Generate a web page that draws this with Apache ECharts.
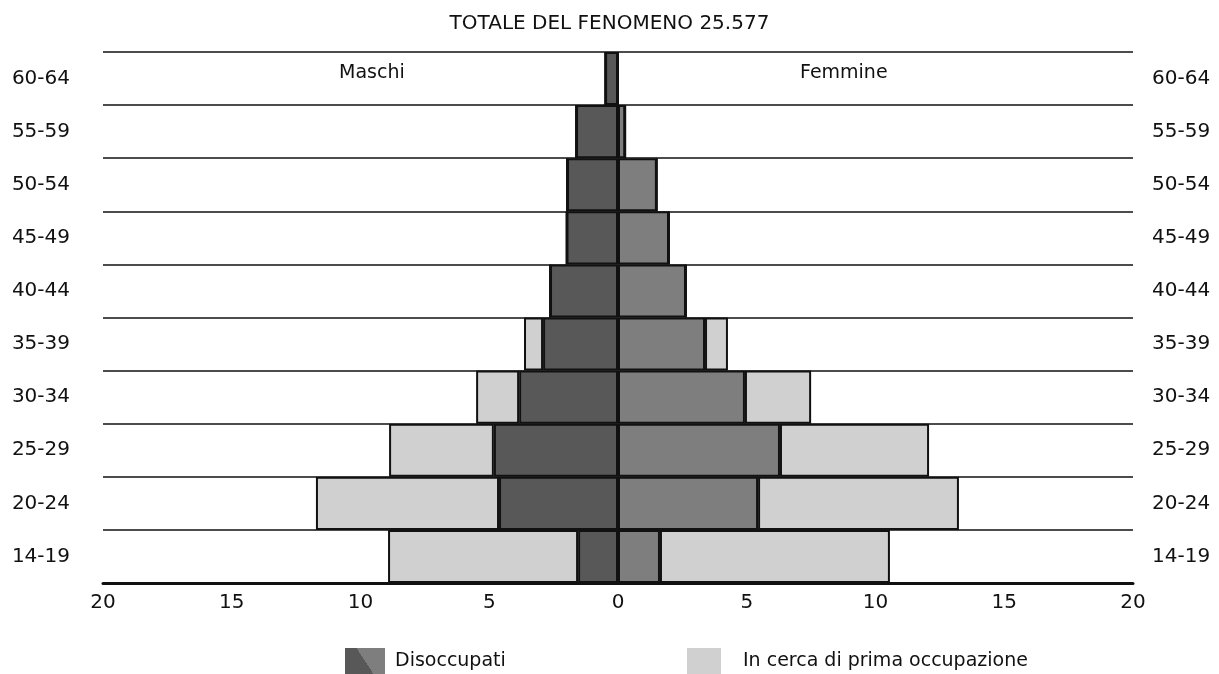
<!DOCTYPE html>
<html>
<head>
<meta charset="utf-8">
<script src="https://cdn.jsdelivr.net/npm/echarts@6/dist/echarts.min.js"></script>
<style>html,body{margin:0;padding:0;background:#fff;}#c{width:1219px;height:674px;}</style>
</head>
<body>
<div id="c"></div>
<script>
// Age classes, bottom to top
const ageClasses = ['14-19','20-24','25-29','30-34','35-39','40-44','45-49','50-54','55-59','60-64'];
// Maschi (thousands)
const maleDisoccupati = [1.55, 4.62, 4.82, 3.84, 2.91, 2.64, 2.0, 1.98, 1.63, 0.5];
const maleInCerca     = [7.38, 7.11, 4.07, 1.67, 0.74, 0, 0, 0, 0, 0];
// Femmine
const femaleDisoccupati = [1.63, 5.44, 6.29, 4.93, 3.38, 2.64, 1.98, 1.51, 0.28, 0];
const femaleInCerca     = [8.93, 7.8, 5.79, 2.57, 0.89, 0, 0, 0, 0, 0];
const xTicks = [-20, -15, -10, -5, 0, 5, 10, 15, 20];

const FONT = '"DejaVu Sans", sans-serif';
const C_MDIS = '#585858', C_FDIS = '#7e7e7e', C_CERCA = '#d0d0d0';
const neg = a => a.map(v => -v);
const barStyle = c => ({ color: c, borderColor: '#111', borderWidth: 2 });

const chart = echarts.init(document.getElementById('c'));
chart.setOption({
  animation: false,
  backgroundColor: '#fff',
  title: { text: 'TOTALE DEL FENOMENO 25.577', left: 'center', top: 9,
    textStyle: { fontFamily: FONT, fontSize: 20, fontWeight: 'normal', color: '#111' } },
  grid: { left: 103, right: 86, top: 52, bottom: 91 },
  xAxis: { type: 'value', min: xTicks[0], max: xTicks[xTicks.length-1], interval: 5,
    axisLine: { show: true, lineStyle: { color: '#111', width: 3 } },
    axisTick: { show: false }, splitLine: { show: false },
    axisLabel: { margin: 10, fontFamily: FONT, fontSize: 20, color: '#111',
      formatter: v => String(Math.abs(v)) } },
  yAxis: [
    { type: 'category', data: ageClasses, position: 'left',
      axisLine: { show: false }, axisTick: { show: false },
      splitLine: { show: true, interval: 0, lineStyle: { color: '#111', width: 1.5 } },
      axisLabel: { margin: 33, fontFamily: FONT, fontSize: 20, color: '#111' } },
    { type: 'category', data: ageClasses, position: 'right',
      axisLine: { show: false }, axisTick: { show: false }, splitLine: { show: false },
      axisLabel: { margin: 19, padding: [8, 0, 0, 0], fontFamily: FONT, fontSize: 20, color: '#111' } }
  ],
  legend: [
    { left: 345, top: 648, itemWidth: 40, itemHeight: 26, icon: 'rect', padding: 0,
      textStyle: { fontFamily: FONT, fontSize: 19, color: '#111', padding: [0,0,0,5] },
      data: [{ name: 'Disoccupati', itemStyle: { borderWidth: 0, color: new echarts.graphic.LinearGradient(0, 1, 1, 0, [
        { offset: 0, color: C_MDIS }, { offset: 0.5, color: C_MDIS }, { offset: 0.5, color: C_FDIS }, { offset: 1, color: C_FDIS }]) } }] },
    { left: 687, top: 648, itemWidth: 34, itemHeight: 26, icon: 'rect', padding: 0,
      textStyle: { fontFamily: FONT, fontSize: 19, color: '#111', padding: [0,0,0,17] },
      data: [{ name: 'In cerca di prima occupazione', itemStyle: { borderWidth: 0, color: C_CERCA } }] }
  ],
  graphic: [
    { type: 'text', left: 339, top: 64, style: { text: 'Maschi', fontFamily: FONT, fontSize: 19, fill: '#111' } },
    { type: 'text', left: 800, top: 64, style: { text: 'Femmine', fontFamily: FONT, fontSize: 19, fill: '#111' } }
  ],
  series: [
    { name: 'Disoccupati', type: 'bar', stack: 'm', barWidth: '100%', barGap: '-100%', data: neg(maleDisoccupati), itemStyle: barStyle(C_MDIS) },
    { name: 'In cerca di prima occupazione', type: 'bar', stack: 'm', barWidth: '100%', barGap: '-100%', data: neg(maleInCerca), itemStyle: barStyle(C_CERCA) },
    { name: 'Disoccupati', type: 'bar', stack: 'f', barWidth: '100%', barGap: '-100%', data: femaleDisoccupati, itemStyle: barStyle(C_FDIS) },
    { name: 'In cerca di prima occupazione', type: 'bar', stack: 'f', barWidth: '100%', barGap: '-100%', data: femaleInCerca, itemStyle: barStyle(C_CERCA) }
  ]
});
</script>
</body>
</html>
